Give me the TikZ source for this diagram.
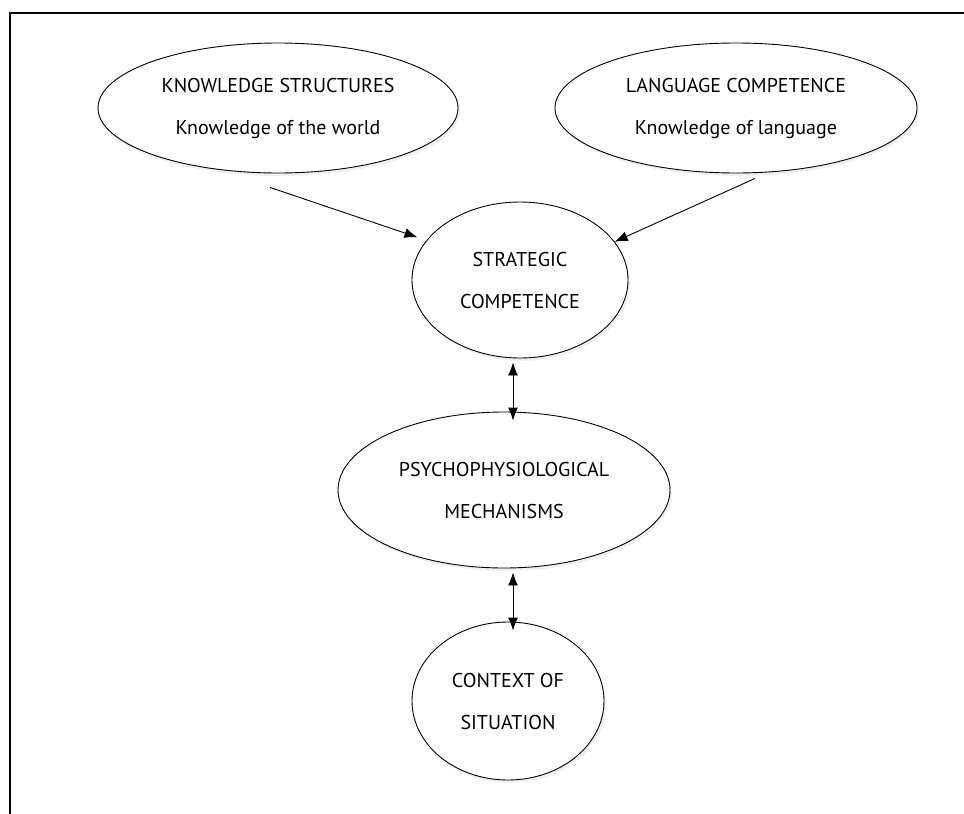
\documentclass[tikz,border=0pt]{standalone}
\usepackage{fontspec}
\setmainfont{PT Sans}
\usetikzlibrary{arrows.meta,shapes.geometric,shadows}

\begin{document}
\begin{tikzpicture}[x=1pt,y=-1pt,
  bubble/.style={ellipse, draw, line width=0.9pt, fill=white, inner sep=0pt,
    align=center, font=\fontsize{20}{42}\selectfont,
    drop shadow={shadow xshift=2pt, shadow yshift=-3pt, opacity=0.12}},
  arr/.style={-{Latex[length=13pt,width=10pt]}, line width=0.9pt},
  dblarr/.style={{Latex[length=13pt,width=10pt]}-{Latex[length=13pt,width=10pt]}, line width=0.9pt}]

\useasboundingbox (0,0) rectangle (964,814);

% frame
\draw[line width=1.2pt] (10,814) -- (10,13) -- (964,13);

% top row
\node[bubble, minimum width=360pt, minimum height=130pt] (know) at (278,108)
  {KNOWLEDGE STRUCTURES\\Knowledge of the world};
\node[bubble, minimum width=362pt, minimum height=130pt] (lang) at (736,108)
  {LANGUAGE COMPETENCE\\Knowledge of language};

% centre column
\node[bubble, minimum width=216pt, minimum height=156pt] (strat) at (520,280)
  {STRATEGIC\\COMPETENCE};
\node[bubble, minimum width=332pt, minimum height=156pt] (psy) at (504,490)
  {PSYCHOPHYSIOLOGICAL\\MECHANISMS};
\node[bubble, minimum width=192pt, minimum height=158pt] (ctx) at (508,701)
  {CONTEXT OF\\SITUATION};

% connectors
\draw[arr] ([shift={(-8,14)}]know.south) -- ([shift={(-9,-3)}]strat.157);
\draw[arr] ([shift={(19,5)}]lang.south) -- (strat.22);
\draw[dblarr] ([shift={(-7,4)}]strat.south) -- ([shift={(9,9)}]psy.north);
\draw[dblarr] ([shift={(9,4)}]psy.south) -- ([shift={(5,9)}]ctx.north);

\end{tikzpicture}
\end{document}
